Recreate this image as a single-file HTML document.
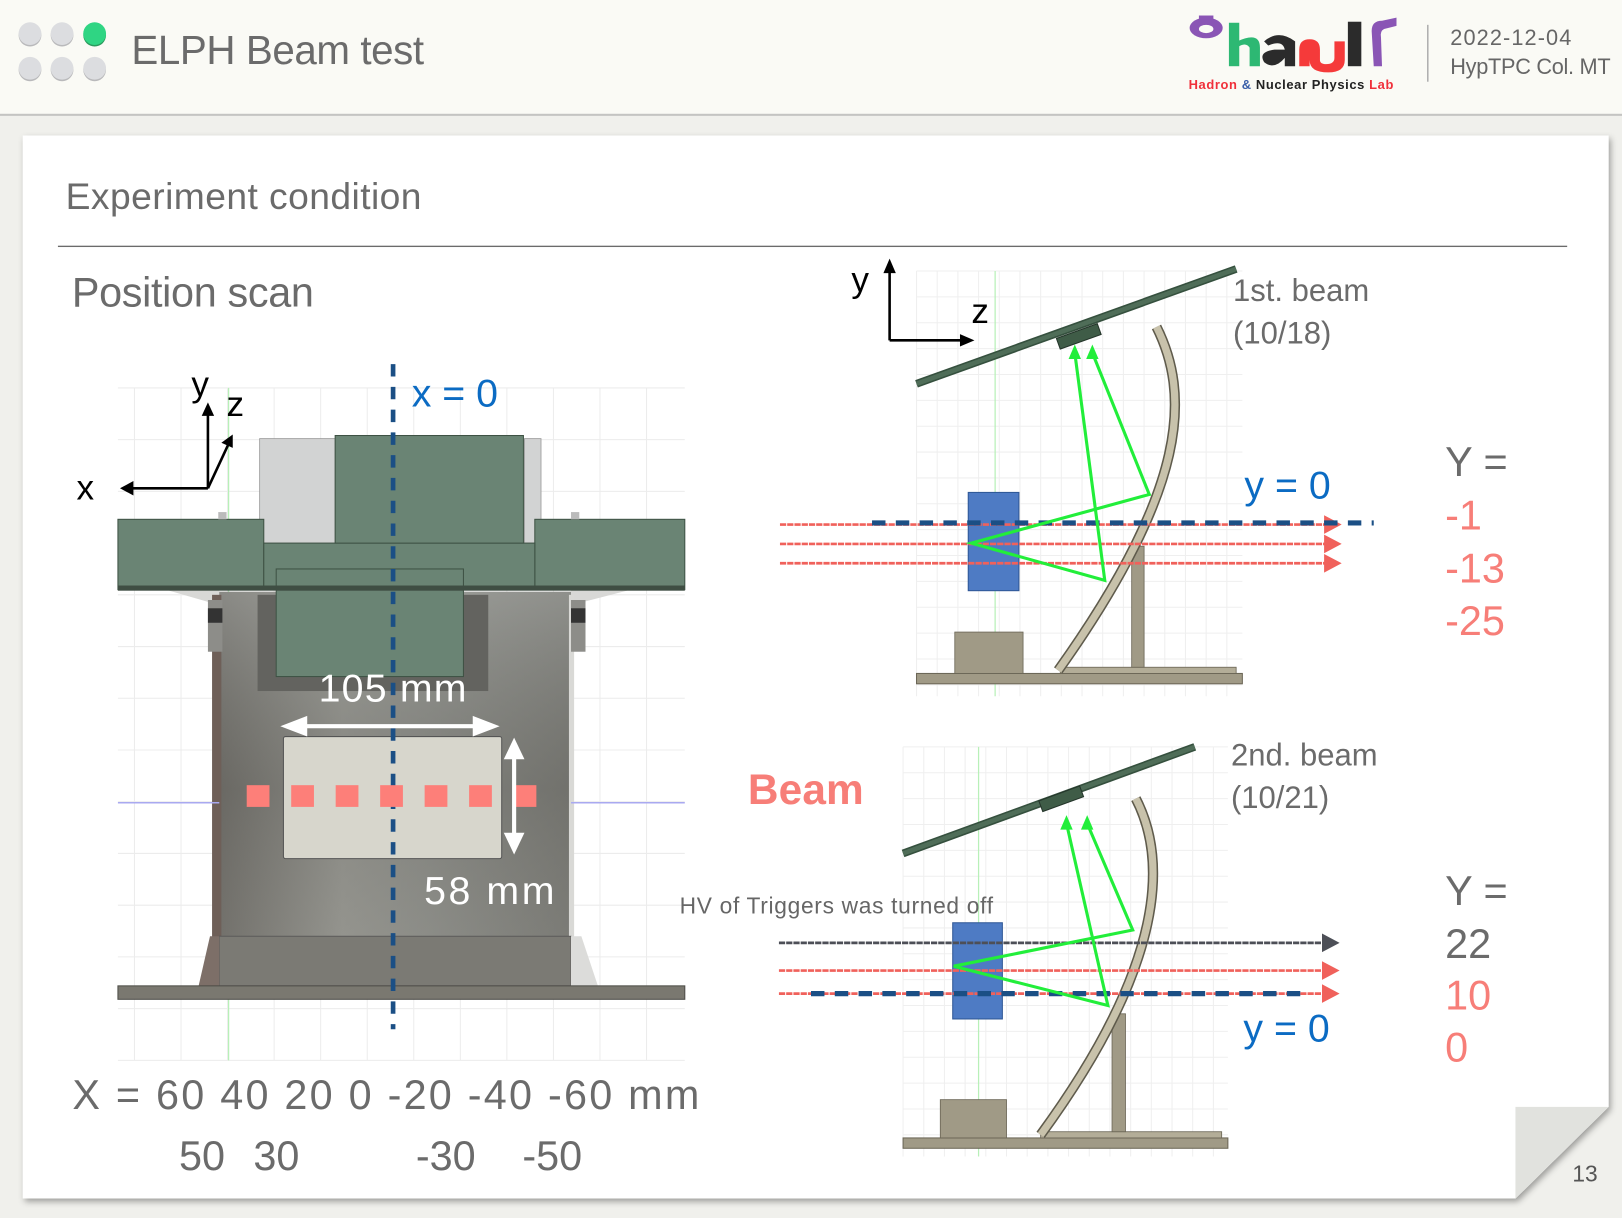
<!DOCTYPE html>
<html><head><meta charset="utf-8"><style>
html,body{margin:0;padding:0;background:#f0f0ec;}
svg{display:block;}
text{font-family:"Liberation Sans","Noto Sans CJK KR",sans-serif;}
</style></head><body>
<svg id="s" width="1622" height="1218" viewBox="0 0 1568 1177.4" preserveAspectRatio="none" xmlns="http://www.w3.org/2000/svg">
<defs>
<linearGradient id="bodyG" x1="0" x2="1" y1="0" y2="0">
<stop offset="0" stop-color="#6f6d68"/><stop offset="0.35" stop-color="#9a9a94"/><stop offset="0.6" stop-color="#8f908b"/><stop offset="1" stop-color="#7a7a75"/></linearGradient>
<linearGradient id="bodyV" x1="0" x2="0" y1="0" y2="1">
<stop offset="0" stop-color="#a4a6a2" stop-opacity="0.5"/><stop offset="0.5" stop-color="#5d5d58" stop-opacity="0.3"/><stop offset="1" stop-color="#8a8a84" stop-opacity="0.2"/></linearGradient>
<filter id="sh" x="-5%" y="-5%" width="110%" height="110%"><feDropShadow dx="2" dy="3" stdDeviation="3" flood-color="#000" flood-opacity="0.35"/></filter>
</defs>

<!-- header -->
<rect x="0" y="0" width="1568" height="110" fill="#fafaf5"/>
<rect x="0" y="110" width="1568" height="2" fill="#c4c4c2"/>
<g>
<circle cx="29" cy="34" r="11" fill="#b9b9bb"/><circle cx="29" cy="32.5" r="11" fill="#dcdde0"/>
<circle cx="60" cy="34" r="11" fill="#b9b9bb"/><circle cx="60" cy="32.5" r="11" fill="#dcdde0"/>
<circle cx="91.5" cy="34" r="11" fill="#2a9a5c"/><circle cx="91.5" cy="32.5" r="11" fill="#2fd583"/>
<circle cx="29" cy="67.5" r="11" fill="#b9b9bb"/><circle cx="29" cy="66" r="11" fill="#dcdde0"/>
<circle cx="60" cy="67.5" r="11" fill="#b9b9bb"/><circle cx="60" cy="66" r="11" fill="#dcdde0"/>
<circle cx="91.5" cy="67.5" r="11" fill="#b9b9bb"/><circle cx="91.5" cy="66" r="11" fill="#dcdde0"/>
</g>
<text x="127" y="62" font-size="39" fill="#6b6b6b" textLength="283">ELPH Beam test</text>

<g>
<ellipse cx="1166" cy="27" rx="16" ry="10" fill="#8a55b5"/><ellipse cx="1166" cy="28" rx="7" ry="4" fill="#fafaf5"/>
<rect x="1159" y="15" width="14" height="4" fill="#8a55b5"/>
<rect x="1188" y="22" width="10" height="42" fill="#2db873"/><path d="M1196 40 Q1218 30 1218 46 L1218 64 L1208 64 L1208 46 Q1204 40 1196 46 Z" fill="#2db873"/>
<path d="M1222 40 Q1236 28 1252 40 L1252 64 L1242 64 L1242 56 Q1232 68 1222 60 Q1216 50 1232 48 L1242 48 Q1240 38 1226 44 Z" fill="#2b2b2b"/>
<path d="M1256 64 L1256 48 Q1256 38 1266 38 Q1276 38 1276 48 L1276 58 Q1276 62 1282 62 Q1290 62 1290 56 L1290 40 L1300 40 L1300 58 Q1300 70 1284 70 Q1266 70 1266 58 L1266 48 L1266 64 Z" fill="#f53a3a"/>
<rect x="1303" y="21" width="13" height="43" fill="#2b2b2b"/>
<path d="M1328 64 L1326 30 Q1326 20 1336 20 L1350 17 L1350 25 L1338 28 Q1334 30 1335 36 L1336 64 Z" fill="#8a55b5"/>
<text x="1149" y="86" font-size="12.5" font-weight="bold" fill="#f0303a" textLength="198"><tspan>Hadron </tspan><tspan fill="#3a5fa8">&amp;</tspan><tspan fill="#222"> Nuclear Physics </tspan><tspan fill="#f0303a">Lab</tspan></text>
</g>
<rect x="1379.5" y="24" width="1.5" height="55" fill="#b0b0b0"/>
<text x="1402" y="43.5" font-size="21" fill="#666" textLength="117">2022-12-04</text>
<text x="1402" y="71.5" font-size="21" fill="#666" textLength="155">HypTPC Col. MT</text>

<!-- card -->
<g filter="url(#sh)">
<polygon points="22,131 1555,131 1555,1070 1465,1158.5 22,1158.5" fill="#ffffff"/>
<polygon points="1465,1070 1555,1070 1465,1158.5" fill="#e1e2de"/>
</g>
<text x="1520" y="1142" font-size="22" fill="#555">13</text>

<text x="63.5" y="202" font-size="36" fill="#6b6b6b" textLength="344">Experiment condition</text>
<rect x="56" y="237.5" width="1459" height="1.3" fill="#6b6b6b"/>
<text x="69.5" y="296.5" font-size="40" fill="#6b6b6b" textLength="234">Position scan</text>

<!-- left drawing -->
<g id="leftGrid"></g>
<g>
<line x1="221" y1="375" x2="221" y2="1025" stroke="#b8f0b8" stroke-width="1.2"/>
<polygon points="160,570 212,570 212,585" fill="#d8d8d6"/>
<polygon points="610,570 552,570 552,585" fill="#d8d8d6"/>
<rect x="212" y="572" width="340" height="381" fill="url(#bodyG)"/>
<rect x="212" y="572" width="340" height="381" fill="url(#bodyV)"/>
<rect x="205" y="575" width="9" height="378" fill="#6e5f58"/>
<rect x="550" y="575" width="5" height="378" fill="#d9d9d6"/>
<rect x="201" y="580" width="14" height="50" fill="#8d8d89"/><rect x="201" y="588" width="14" height="14" fill="#333"/>
<rect x="552" y="580" width="14" height="50" fill="#8d8d89"/><rect x="552" y="588" width="14" height="14" fill="#333"/>
<rect x="249" y="575" width="223" height="93" fill="#63635f"/>
<rect x="212" y="905" width="340" height="48" fill="#7b7a74" stroke="#555" stroke-width="0.8"/>
<polygon points="203,905 212,905 212,953 192,953" fill="#7d6f68"/>
<polygon points="552,905 562,905 578,953 552,953" fill="#dcdcda"/>
<rect x="114" y="953" width="548" height="13" fill="#7a7870" stroke="#4e4d48" stroke-width="1"/>
<rect x="251" y="424" width="73" height="101" fill="#d2d3d3" stroke="#999" stroke-width="0.8"/>
<rect x="507" y="424" width="16" height="101" fill="#d2d3d3" stroke="#999" stroke-width="0.8"/>
<rect x="114" y="502" width="141" height="68" fill="#6a8474" stroke="#3e5244" stroke-width="1"/>
<rect x="517" y="502" width="145" height="68" fill="#6a8474" stroke="#3e5244" stroke-width="1"/>
<rect x="255" y="525" width="262" height="45" fill="#6a8474" stroke="#3e5244" stroke-width="1"/>
<rect x="324" y="421" width="182" height="104" fill="#6a8474" stroke="#3e5244" stroke-width="1"/>
<rect x="267" y="550" width="181" height="104" fill="#6a8474" stroke="#3e5244" stroke-width="1"/>
<rect x="114" y="566" width="548" height="5" fill="#3f4e43"/>
<rect x="211" y="495" width="8" height="7" fill="#bbb"/><rect x="552" y="495" width="8" height="7" fill="#bbb"/>
<line x1="114" y1="776" x2="212" y2="776" stroke="#a9a9f0" stroke-width="1.5"/>
<line x1="552" y1="776" x2="662" y2="776" stroke="#a9a9f0" stroke-width="1.5"/>
<rect x="274" y="712" width="211" height="118" fill="#d7d6cc" stroke="#555" stroke-width="1" rx="2"/>
</g>
<g stroke="#000" stroke-width="2.5" fill="#000">
<line x1="201" y1="472" x2="126" y2="472"/><polygon points="116,472 129,465 129,479" stroke="none"/>
<line x1="201" y1="472" x2="201" y2="398"/><polygon points="201,389 195,402 207,402" stroke="none"/>
<line x1="201" y1="472" x2="221" y2="429"/><polygon points="225,420 214,428 225,433" stroke="none"/>
</g>
<text x="74" y="483" font-size="34" fill="#000">x</text>
<text x="185" y="383" font-size="34" fill="#000">y</text>
<text x="219" y="402" font-size="34" fill="#000">z</text>
<line x1="380" y1="352" x2="380" y2="995" stroke="#1b4f85" stroke-width="4.5" stroke-dasharray="12,10"/>
<text x="398" y="393" font-size="38" fill="#0b6bc3">x = 0</text>
<g id="scanSquares"></g>
<g fill="#fff" stroke="#fff">
<line x1="285" y1="702" x2="468" y2="702" stroke-width="4"/>
<polygon points="271,702 297,692 297,712" stroke="none"/><polygon points="483,702 457,692 457,712" stroke="none"/>
<line x1="497" y1="725" x2="497" y2="814" stroke-width="4"/>
<polygon points="497,713 487,734 507,734" stroke="none"/><polygon points="497,826 487,805 507,805" stroke="none"/>
</g>
<text x="308" y="678" font-size="38" fill="#fff" textLength="143">105 mm</text>
<text x="410" y="874" font-size="38" fill="#fff" textLength="126">58 mm</text>

<text x="70" y="1072" font-size="40" fill="#6b6b6b" textLength="606">X = 60 40 20 0 -20 -40 -60 mm</text>
<text y="1131" font-size="40" fill="#6b6b6b"><tspan x="173">50</tspan><tspan x="245">30</tspan><tspan x="402">-30</tspan><tspan x="505">-50</tspan></text>

<!-- right panels -->
<g id="panel1"></g>
<g id="panel2"></g>

<g stroke="#000" stroke-width="2.5">
<line x1="860" y1="329" x2="860" y2="260"/><polygon points="860,250 854,264 866,264" fill="#000" stroke="none"/>
<line x1="860" y1="329" x2="930" y2="329"/><polygon points="942,329 928,323 928,335" fill="#000" stroke="none"/>
</g>
<text x="823" y="282" font-size="34" fill="#000">y</text>
<text x="939" y="312" font-size="34" fill="#000">z</text>

<text x="1192" y="291" font-size="30" fill="#6b6b6b">1st. beam</text>
<text x="1192" y="332" font-size="30" fill="#6b6b6b">(10/18)</text>
<text x="1190" y="740" font-size="30" fill="#6b6b6b">2nd. beam</text>
<text x="1190" y="781" font-size="30" fill="#6b6b6b">(10/21)</text>
<text x="723" y="777" font-size="41" font-weight="bold" fill="#f77e78" textLength="112">Beam</text>
<text x="657" y="883" font-size="22" fill="#666" textLength="303">HV of Triggers was turned off</text>
<text x="1203" y="482" font-size="38" fill="#0b6bc3">y = 0</text>
<text x="1202" y="1007" font-size="38" fill="#0b6bc3">y = 0</text>

<g id="ylabels"></g>

<script>
// ---- data ----
const scanX = [60, 40, 20, 0, -20, -40, -60];          // mm, front-view scan positions
const beam1Y = [-1, -13, -25];                          // mm, 1st beam
const beam1On = [true, true, true];
const beam2Y = [22, 10, 0];                             // mm, 2nd beam
const beam2On = [false, true, true];
const yLabelHead = "Y =";

const NS = "http://www.w3.org/2000/svg";
function mk(tag, attrs, parent){ const e=document.createElementNS(NS,tag); for(const k in attrs) e.setAttribute(k,attrs[k]); parent.appendChild(e); return e; }

// axis functions
const xFront = x => 378.5 - x * 2.15;
const yP1 = y => 505.5 - y * 1.56;
const yP2 = y => 960.5 - y * 2.23;

// left grid
const lg = document.getElementById('leftGrid');
for (let gx = 130; gx <= 662; gx += 45) mk('line',{x1:gx,y1:375,x2:gx,y2:1025,stroke:'#ececec','stroke-width':1},lg);
for (let gy = 375; gy <= 1025; gy += 50) mk('line',{x1:114,y1:gy,x2:662,y2:gy,stroke:'#ececec','stroke-width':1},lg);

// scan squares
const sq = document.getElementById('scanSquares');
scanX.forEach(v => {
  const r = mk('rect',{x:xFront(v)-11,y:759,width:22,height:21,fill:'#fd7f79'},sq);
  
  
});

function panel(g, o, ys, on, yfn, dashY, lineX0){
  for (let gx = o.gx0; gx <= o.gx1; gx += 20) mk('line',{x1:gx,y1:o.gy0,x2:gx,y2:o.gy1,stroke:'#efefef','stroke-width':1},g);
  for (let gy = o.gy0; gy <= o.gy1; gy += 25) mk('line',{x1:o.gx0,y1:gy,x2:o.gx1,y2:gy,stroke:'#efefef','stroke-width':1},g);
  mk('line',{x1:o.green,y1:o.gy0,x2:o.green,y2:o.gy1,stroke:'#b8f0b8','stroke-width':1.2},g);
  mk('rect',{x:o.gx0,y:o.baseY,width:o.gx1-o.gx0,height:10,fill:'#a09a86',stroke:'#6b6656','stroke-width':1},g);
  mk('rect',{x:o.plateX,y:o.baseY-6,width:o.gx1-6-o.plateX,height:6,fill:'#b3ad98',stroke:'#6b6656','stroke-width':0.8},g);
  mk('rect',{x:o.box[0],y:o.box[1],width:o.box[2],height:o.baseY-o.box[1],fill:'#a09a86',stroke:'#6b6656','stroke-width':0.8},g);
  mk('rect',{x:o.pil[0],y:o.pil[1],width:o.pil[2],height:o.baseY-6-o.pil[1],fill:'#a09a86',stroke:'#6b6656','stroke-width':0.8},g);
  const m=o.mir;
  const d=`M${m[0]} ${m[1]} C${m[2]} ${m[3]} ${m[4]} ${m[5]} ${m[6]} ${m[7]}`;
  mk('path',{d:d,fill:'none',stroke:'#5f5b4c','stroke-width':10},g);
  mk('path',{d:d,fill:'none',stroke:'#c8c2ab','stroke-width':7},g);
  mk('line',{x1:o.tp[0],y1:o.tp[1],x2:o.tp[2],y2:o.tp[3],stroke:'#35503e','stroke-width':7.5},g);
  mk('line',{x1:o.tp[0],y1:o.tp[1],x2:o.tp[2],y2:o.tp[3],stroke:'#4f6d58','stroke-width':4.5},g);
  const ang = Math.atan2(o.tp[3]-o.tp[1],o.tp[2]-o.tp[0])*180/Math.PI;
  mk('rect',{x:-21,y:0,width:42,height:11,fill:'#3f5c47',stroke:'#24352a','stroke-width':1,transform:`translate(${o.sen[0]},${o.sen[1]}) rotate(${ang})`},g);
  mk('rect',{x:o.tgt[0],y:o.tgt[1],width:o.tgt[2],height:o.tgt[3],fill:'#4e7bc4',stroke:'#2f5796','stroke-width':1},g);
  ys.forEach((v,i) => {
    const y = yfn(v); const c = on[i] ? '#f0615b' : '#4d4f57';
    const l = mk('line',{x1:lineX0,y1:y,x2:o.lx1,y2:y,stroke:c,'stroke-width':2.6,'stroke-dasharray':'6,1'},g);
    
    
    const a = mk('polygon',{points:`${o.lx1+14},${y} ${o.lx1-3},${y-9} ${o.lx1-3},${y+9}`,fill:c},g);
    
    
  });
  mk('line',{x1:o.dx0,y1:dashY,x2:o.dx1,y2:dashY,stroke:'#1b4f85','stroke-width':5,'stroke-dasharray':'13,10'},g);
  const p=o.gr;
  mk('polyline',{points:`${p.t2[0]},${p.t2[1]+8} ${p.p1[0]},${p.p1[1]} ${p.p0[0]},${p.p0[1]} ${p.p2[0]},${p.p2[1]} ${p.t1[0]},${p.t1[1]+8}`,fill:'none',stroke:'#22ee3a','stroke-width':3},g);
  [p.t1,p.t2].forEach(t=>mk('polygon',{points:`${t[0]},${t[1]} ${t[0]-6},${t[1]+14} ${t[0]+6},${t[1]+14}`,fill:'#22ee3a'},g));
}

panel(document.getElementById('panel1'),
  {gx0:886,gx1:1201,gy0:262,gy1:673,green:962,baseY:651,plateX:1025,box:[923,611,66],pil:[1094,528,12],
   mir:[1118,316,1150,380,1150,470,1023,648],tp:[886,371,1195,260],sen:[1041,320],tgt:[936,476,49,95],lx1:1283,dx0:843,dx1:1328,
   gr:{p0:[939,525],p1:[1111,478],p2:[1068,561],t1:[1039,333],t2:[1056,333]}},
  beam1Y, beam1On, yP1, yP1(0), 754);

panel(document.getElementById('panel2'),
  {gx0:873,gx1:1187,gy0:722,gy1:1118,green:946,baseY:1100,plateX:1006,box:[909,1063,64],pil:[1075,980,13],
   mir:[1098,772,1128,830,1128,930,1006,1097],tp:[873,825,1155,722],sen:[1024,767],tgt:[921,892,48,93],lx1:1281,dx0:784,dx1:1266,
   gr:{p0:[922,934],p1:[1095,899],p2:[1071,972],t1:[1031,788],t2:[1051,788]}},
  beam2Y, beam2On, yP2, yP2(0), 753);

const yl = document.getElementById('ylabels');
function ylab(x,y,txt,col){ const t=mk('text',{x:x,y:y,'font-size':40,fill:col},yl); t.textContent=txt; return t; }
let t = ylab(1397,460,yLabelHead,'#6b6b6b');


beam1Y.forEach((v,i)=>{ const e=ylab(1397,512+i*51,String(v),beam1On[i]?'#f77e78':'#6b6b6b');
  
   });
t = ylab(1397,875,yLabelHead,'#6b6b6b');


beam2Y.forEach((v,i)=>{ const e=ylab(1397,926+i*50,String(v),beam2On[i]?'#f77e78':'#6b6b6b');
  
   });
</script>
</svg>
</body></html>
